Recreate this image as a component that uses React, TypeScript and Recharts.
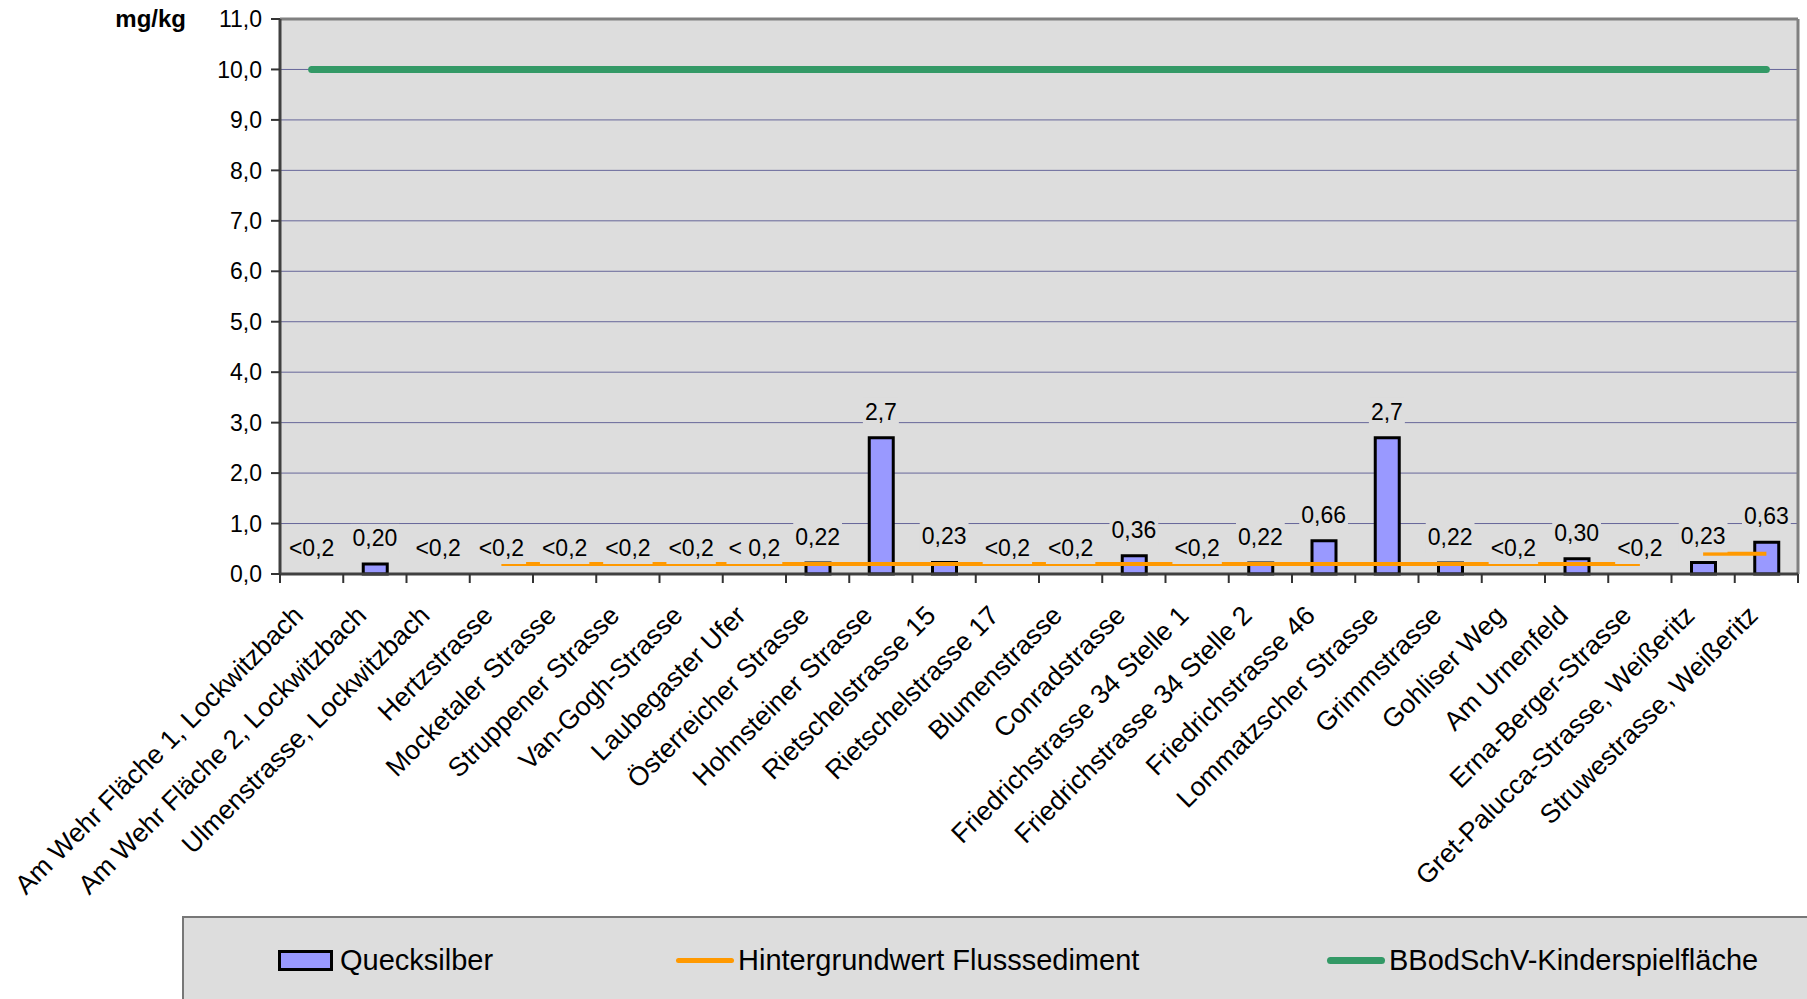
import {
  Bar,
  CartesianGrid,
  ComposedChart,
  LabelList,
  Legend,
  Line,
  ReferenceLine,
  XAxis,
  YAxis,
} from "recharts";

const sites = [
  "Am Wehr Fläche 1, Lockwitzbach",
  "Am Wehr Fläche 2, Lockwitzbach",
  "Ulmenstrasse, Lockwitzbach",
  "Hertzstrasse",
  "Mocketaler Strasse",
  "Struppener Strasse",
  "Van-Gogh-Strasse",
  "Laubegaster Ufer",
  "Österreicher Strasse",
  "Hohnsteiner Strasse",
  "Rietschelstrasse 15",
  "Rietschelstrasse 17",
  "Blumenstrasse",
  "Conradstrasse",
  "Friedrichstrasse 34 Stelle 1",
  "Friedrichstrasse 34 Stelle 2",
  "Friedrichstrasse 46",
  "Lommatzscher Strasse",
  "Grimmstrasse",
  "Gohliser Weg",
  "Am Urnenfeld",
  "Erna-Berger-Strasse",
  "Gret-Palucca-Strasse, Weißeritz",
  "Struwestrasse, Weißeritz",
];

// Quecksilber in mg/kg, null = below detection limit (<0,2)
const mercury = [
  null, 0.2, null, null, null, null, null, null, 0.22, 2.7, 0.23, null,
  null, 0.36, null, 0.22, 0.66, 2.7, 0.22, null, 0.3, null, 0.23, 0.63,
];

const mercuryLabels = [
  "<0,2", "0,20", "<0,2", "<0,2", "<0,2", "<0,2", "<0,2", "< 0,2",
  "0,22", "2,7", "0,23", "<0,2", "<0,2", "0,36", "<0,2", "0,22",
  "0,66", "2,7", "0,22", "<0,2", "0,30", "<0,2", "0,23", "0,63",
];

// Hintergrundwert Flusssediment (Elbe part, then Weißeritz part)
const backgroundElbe = [
  null, null, null, 0.2, 0.2, 0.2, 0.2, 0.2, 0.2, 0.2, 0.2, 0.2,
  0.2, 0.2, 0.2, 0.2, 0.2, 0.2, 0.2, 0.2, 0.2, 0.2, null, null,
];
const backgroundWeisseritz = [
  null, null, null, null, null, null, null, null, null, null, null, null,
  null, null, null, null, null, null, null, null, null, null, 0.4, 0.4,
];

// BBodSchV Prüfwert Kinderspielfläche
const playgroundLimit = [
  10, 10, 10, 10, 10, 10, 10, 10, 10, 10, 10, 10,
  10, 10, 10, 10, 10, 10, 10, 10, 10, 10, 10, 10,
];

const yTicks = [0, 1, 2, 3, 4, 5, 6, 7, 8, 9, 10, 11];

const data = sites.map((site, i) => ({
  site,
  hg: mercury[i],
  labelAt: mercury[i] ?? 0,
  label: mercuryLabels[i],
  bgElbe: backgroundElbe[i],
  bgWeisseritz: backgroundWeisseritz[i],
  limit: playgroundLimit[i],
}));

const WIDTH = 1807;
const HEIGHT = 999;
const AXIS_W = 280;
const RIGHT = 9;
const BAND = (WIDTH - AXIS_W - RIGHT) / sites.length;
const PLOT_BG = "#DDDDDD";
const FONT = "'Liberation Sans', Arial, sans-serif";
const VALUE_FS = 23;

const charW: Record<string, number> = { "<": 0.584, ",": 0.278, " ": 0.278 };
const textWidth = (s: string, size: number) =>
  s.split("").reduce((w, c) => w + (charW[c] ?? 0.556), 0) * size;

function ValueLabel(props: any) {
  const { x, y, value } = props;
  if (x == null || y == null || !value) return null;
  const w = textWidth(String(value), VALUE_FS) + 4;
  return (
    <g>
      <rect x={x - w / 2} y={y - 40} width={w} height={30} fill={PLOT_BG} />
      <text x={x} y={y - 18} textAnchor="middle" fontSize={VALUE_FS} fill="#000">
        {value}
      </text>
    </g>
  );
}

function SiteTick(props: any) {
  const { x, y, payload, index } = props;
  const half = BAND / 2;
  const ax = x - 7;
  const ay = y + 43;
  return (
    <g>
      <line x1={x - half} x2={x - half} y1={y} y2={y + 9} stroke="#333" strokeWidth={2} />
      {index === sites.length - 1 && (
        <line x1={x + half} x2={x + half} y1={y} y2={y + 9} stroke="#333" strokeWidth={2} />
      )}
      <text
        x={ax}
        y={ay}
        transform={`rotate(-45, ${ax}, ${ay})`}
        textAnchor="end"
        fontSize={26.6}
        fill="#000"
      >
        {payload.value}
      </text>
    </g>
  );
}

function UnitLabel(props: any) {
  const { viewBox } = props;
  return (
    <text x={186} y={(viewBox?.y ?? 19) + 8} textAnchor="end" fontSize={24} fontWeight="bold" fill="#000">
      mg/kg
    </text>
  );
}

const legendLeft: Record<string, number> = { hg: 94, bgElbe: 492, limit: 1143 };

function LegendBox(props: any) {
  const items = (props.payload ?? []).filter(
    (p: any) => p.type !== "none" && legendLeft[p.dataKey] != null
  );
  return (
    <div
      style={{
        position: "relative",
        width: "100%",
        height: "100%",
        boxSizing: "border-box",
        background: PLOT_BG,
        borderTop: "2px solid #777",
        borderLeft: "2px solid #777",
        fontFamily: FONT,
      }}
    >
      {items.map((item: any) => {
        const left = legendLeft[item.dataKey];
        const isBar = item.dataKey === "hg";
        const isLimit = item.dataKey === "limit";
        const swatch = isBar ? (
          <div
            style={{
              position: "absolute",
              left,
              top: 32,
              width: 55,
              height: 21,
              boxSizing: "border-box",
              background: "#9999FF",
              border: "3px solid #000",
            }}
          />
        ) : (
          <div
            style={{
              position: "absolute",
              left,
              top: isLimit ? 39 : 40,
              width: 58,
              height: isLimit ? 7 : 5,
              borderRadius: 4,
              background: isLimit ? "#339966" : "#FF9900",
            }}
          />
        );
        return (
          <div key={item.dataKey}>
            {swatch}
            <span
              style={{
                position: "absolute",
                left: left + 62,
                top: 28,
                fontSize: 29,
                lineHeight: "29px",
                whiteSpace: "nowrap",
                color: "#000",
              }}
            >
              {item.value}
            </span>
          </div>
        );
      })}
    </div>
  );
}

export default function App() {
  return (
    <div
      style={{
        position: "absolute",
        left: 0,
        top: 0,
        width: WIDTH,
        height: HEIGHT,
        overflow: "hidden",
        background: "#fff",
        fontFamily: FONT,
      }}
    >
      <ComposedChart
        width={WIDTH}
        height={HEIGHT}
        data={data}
        margin={{ top: 19, right: RIGHT, bottom: 0, left: 0 }}
      >
        <CartesianGrid vertical={false} fill={PLOT_BG} stroke="#666699" strokeWidth={1} fillOpacity={1} />
        <XAxis
          dataKey="site"
          interval={0}
          height={425}
          tickSize={0}
          tickMargin={0}
          tickLine={false}
          axisLine={{ stroke: "#404040", strokeWidth: 3 }}
          tick={<SiteTick />}
        />
        <YAxis
          width={AXIS_W}
          domain={[0, 11]}
          ticks={yTicks}
          interval={0}
          tickSize={9}
          tickMargin={9}
          tickLine={{ stroke: "#333", strokeWidth: 2 }}
          axisLine={{ stroke: "#404040", strokeWidth: 3 }}
          tick={{ fontSize: 23, fill: "#000" }}
          tickFormatter={(v: number) => v.toFixed(1).replace(".", ",")}
          label={<UnitLabel />}
        />
        <ReferenceLine y={11} stroke="#808080" strokeWidth={3} />
        <ReferenceLine x={sites[sites.length - 1]} position="end" stroke="#808080" strokeWidth={3} />
        <Bar
          dataKey="hg"
          name="Quecksilber"
          fill="#9999FF"
          stroke="#000"
          strokeWidth={3}
          barSize={24}
          legendType="rect"
          isAnimationActive={false}
        />
        <Line
          dataKey="bgElbe"
          name="Hintergrundwert Flusssediment"
          stroke="#FF9900"
          strokeWidth={4}
          dot={false}
          legendType="line"
          isAnimationActive={false}
        />
        <Line
          dataKey="bgWeisseritz"
          name="Hintergrundwert Weißeritz"
          stroke="#FF9900"
          strokeWidth={4}
          dot={false}
          legendType="none"
          isAnimationActive={false}
        />
        <Line
          dataKey="labelAt"
          stroke="none"
          dot={false}
          activeDot={false}
          legendType="none"
          isAnimationActive={false}
        >
          <LabelList dataKey="label" content={<ValueLabel />} />
        </Line>
        <Line
          dataKey="limit"
          name="BBodSchV-Kinderspielfläche"
          stroke="#339966"
          strokeWidth={7}
          strokeLinecap="round"
          dot={false}
          legendType="line"
          isAnimationActive={false}
        />
        <Legend
          layout="horizontal"
          verticalAlign="middle"
          align="center"
          content={<LegendBox />}
          wrapperStyle={{ position: "absolute", left: 182, top: 916, width: 1625, height: 83, margin: 0 }}
        />
      </ComposedChart>
    </div>
  );
}
